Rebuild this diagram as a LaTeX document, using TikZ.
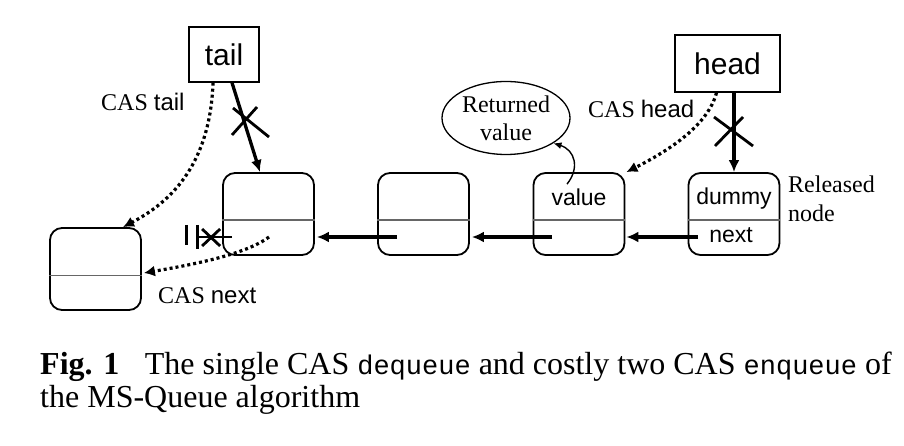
\documentclass[tikz,border=0pt]{standalone}
\usepackage{fontspec}
\setmainfont{Liberation Serif}
\setsansfont{Liberation Sans}
\setmonofont{Liberation Mono}
\usetikzlibrary{arrows.meta,calc,shapes.geometric}
\newcommand{\serifsz}{\fontsize{24}{28}\selectfont}
\newcommand{\sanssz}{\sffamily\fontsize{24}{28}\selectfont}
\newcommand{\capmono}[1]{{\ttfamily\fontsize{27}{33}\selectfont #1}}
\begin{document}
\begin{tikzpicture}[x=1pt,y=-1pt,
  cell/.style={draw, line width=1.8pt, rounded corners=12pt, minimum width=91pt, minimum height=82pt, inner sep=0pt},
  ptr/.style={draw, line width=1.4pt, inner sep=0pt, font=\sffamily\fontsize{30}{32}\selectfont},
  divider/.style={line width=1.2pt, black!60},
  solidarr/.style={line width=3.3pt, -{Latex[length=12pt,width=11pt]}},
  dotarr/.style={line width=3.2pt, dash pattern=on 3pt off 3pt, -{Latex[length=11pt,width=11pt]}},
  thinarr/.style={line width=1.4pt, -{Latex[length=8pt,width=7pt]}},
  crossline/.style={line width=2.8pt},
  lbl/.style={inner sep=0pt, anchor=base west, font=\serifsz},
  inlbl/.style={inner sep=0pt, anchor=base, font=\sffamily\fontsize{23}{26}\selectfont},
  captxt/.style={inner sep=0pt, anchor=base west, font=\fontsize{32}{33}\selectfont}
]
\useasboundingbox (0,0) rectangle (904,446);

% pointer boxes
\node[ptr, minimum width=70pt, minimum height=55pt] (tail) at (224,54.5) {tail};
\node[ptr, minimum width=105pt, minimum height=57pt] (head) at (727.5,63.5) {head};

% list cells
\node[cell] (A) at (95.5,269) {};
\node[cell] (B) at (268.5,214) {};
\node[cell] (C) at (423.5,214) {};
\node[cell] (D) at (579,214) {};
\node[cell] (E) at (734,214) {};
\foreach \n/\d in {A/48,B/48,C/48,D/48,E/48}{
  \draw[divider] ($(\n.north west)+(0,\d)$) -- ($(\n.north east)+(0,\d)$);
}

% cell texts
\node[inlbl] (valD) at (579,206) {value};
\node[inlbl] (dumE) at (734,205) {dummy};
\node[inlbl] (nxtE) at (731,243) {next};

% returned value ellipse
\node[draw, ellipse, line width=1.3pt, minimum width=128pt, minimum height=73pt, inner sep=0pt, align=center, font=\serifsz] (ret) at (506,118) {Returned\\value};

% side labels
\node[lbl] (rel1) at (788,193) {Released};
\node[lbl] (rel2) at (788,222) {node};
\node[lbl] (castail) at (101,111) {CAS {\sanssz tail}};
\node[lbl] (cashead) at (588,118) {CAS {\sanssz head}};
\node[lbl] (casnext) at (158,303) {CAS {\sanssz next}};

% next pointers
\draw[solidarr] ($(C.center)+(-26.5,23)$) -- ($(B.east)+(2,23)$);
\draw[solidarr] ($(D.center)+(-27,23)$) -- ($(C.east)+(2,23)$);
\draw[solidarr] ($(E.center)+(-36,23)$) -- ($(D.east)+(1,23)$);

% tail pointer (crossed)
\draw[solidarr] ($(tail.south)+(8,0)$) -- ($(B.north)+(-8.5,0)$);
\draw[crossline] (233,108) -- (269,137);
\draw[crossline] (232,135) -- (257,107);

% head pointer (crossed)
\draw[solidarr] (E.north |- head.south) -- (E.north);
\draw[crossline] (714,117) -- (753,146);
\draw[crossline] (715,146) -- (743,117);

% broken next of B
\coordinate (bn) at ($(B.west)+(10,23)$);
\draw[crossline] (bn) -- ($(bn)+(-35,0)$);
\draw[crossline] ($(bn)+(-35,-12)$) -- ($(bn)+(-35,12)$);
\draw[crossline] ($(bn)+(-46,-12)$) -- ($(bn)+(-46,8)$);
\draw[crossline] ($(bn)+(-30,-8)$) -- ($(bn)+(-12,9)$);
\draw[crossline] ($(bn)+(-30,9)$) -- ($(bn)+(-12,-8)$);

% CAS arrows
\draw[dotarr] ($(tail.south)+(-11,0)$) .. controls (210,170) and (165,205) .. ($(A.north)+(27.5,0)$);
\draw[dotarr] ($(B.center)+(0.5,23)$) .. controls (245,255) and (190,265) .. ($(A.east)+(2,4)$);
\draw[dotarr] ($(head.south)+(-11,0)$) .. controls (708,125) and (670,150) .. ($(D.north east)+(1,0)$);

% returned value arrow
\draw[thinarr] ($(D.north)+(-12,12)$) .. controls (580,168) and (575,150) .. (ret.-28);

% caption
\node[captxt] (cap1) at (40,374) {\textbf{Fig. 1}\hspace{0.8em}The single CAS \capmono{dequeue} and costly two CAS \capmono{enqueue} of};
\node[captxt] (cap2) at (40,407) {the MS-Queue algorithm};
\end{tikzpicture}
\end{document}
